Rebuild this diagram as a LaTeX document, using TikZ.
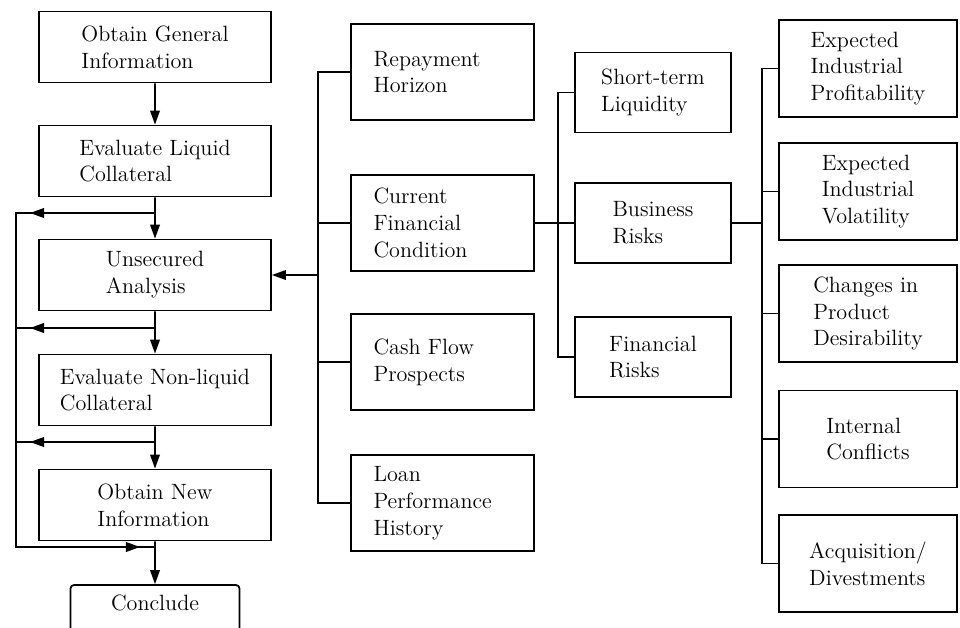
\documentclass[tikz,border=0pt]{standalone}
\usetikzlibrary{arrows.meta}
\begin{document}
\begin{tikzpicture}[scale=0.2]
\tikzstyle{every node}+=[font=\fontsize{12.6}{15.3}\selectfont]
\tikzstyle{stepbox}=[draw=black, line width=1pt, minimum width=4.64cm, minimum height=1.42cm, align=left]
\tikzstyle{factor}=[draw=black, line width=1pt, text width=2.76cm, inner xsep=0.45cm, minimum height=1.92cm, align=left]
\tikzstyle{risk}=[draw=black, line width=1pt, minimum width=3.12cm, minimum height=1.6cm, align=left]
\tikzstyle{cause}=[draw=black, line width=1pt, minimum width=3.56cm, minimum height=1.94cm, align=left]
\tikzstyle{link}=[black, line width=1pt]
\tikzstyle{flow}=[black, line width=1pt, -{Triangle[length=8pt,width=5.5pt]}]
\useasboundingbox (0,0) rectangle (96,-62.7);
% procedure
\node [stepbox] (gen) at (15.5,-4.7) {Obtain General\\Information};
\node [stepbox] (liq) at (15.5,-16.1) {Evaluate Liquid\\Collateral};
\node [stepbox] (uns) at (15.5,-27.5) {Unsecured\\Analysis};
\node [stepbox] (nonliq) at (15.5,-39.0) {Evaluate Non-liquid\\Collateral};
\node [stepbox] (new) at (15.5,-50.5) {Obtain New\\Information};
\node [stepbox, minimum width=3.38cm, minimum height=0pt, inner ysep=0pt, text height=0.5cm, text depth=0.6cm, rounded corners=2pt] (concl) at (15.5,-61.25) {Conclude};
\draw [flow] (gen) -- (liq);
\draw [flow] (liq) -- (uns);
\draw [flow] (uns) -- (nonliq);
\draw [flow] (nonliq) -- (new);
\draw [flow] (new) -- (concl);
% way out to conclude
\coordinate (j1) at (15.5,-21.3);
\coordinate (j2) at (15.5,-32.8);
\coordinate (j3) at (15.5,-44.2);
\coordinate (j4) at (15.5,-54.7);
\coordinate (k1) at (1.6,-21.3);
\coordinate (k4) at (1.6,-54.7);
\coordinate (a1) at (3.0,-21.3);
\coordinate (a2) at (3.0,-32.8);
\coordinate (a3) at (3.0,-44.2);
\coordinate (a4) at (14.0,-54.7);
\draw [link] (j1) -- (k1) -- (k4) -- (j4);
\draw [link] (j2) -- (j2 -| k1);
\draw [link] (j3) -- (j3 -| k1);
\draw [flow] (j1) -- (a1);
\draw [flow] (j2) -- (a2);
\draw [flow] (j3) -- (a3);
\draw [flow] (k4) -- (a4);
% factors
\node [factor] (rep) at (44.25,-7.2) {Repayment\\Horizon};
\node [factor] (cfc) at (44.25,-22.3) {Current\\Financial\\Condition};
\node [factor] (cash) at (44.25,-36.2) {Cash Flow\\Prospects};
\node [factor] (loan) at (44.25,-50.3) {Loan\\Performance\\History};
\coordinate (busA) at (31.8,0);
\draw [link] (rep.west) -- (rep.west -| busA) -- (loan.west -| busA) -- (loan.west);
\draw [link] (cfc.west) -- (cfc.west -| busA);
\draw [link] (cash.west) -- (cash.west -| busA);
\draw [flow] (uns.east -| busA) -- (uns.east);
% risks
\node [risk] (stl) at (65.3,-9.25) {Short-term\\Liquidity};
\node [risk] (brisk) at (65.3,-22.3) {Business\\Risks};
\node [risk] (frisk) at (65.3,-35.7) {Financial\\Risks};
\coordinate (busB) at (55.8,0);
\draw [link] (cfc.east) -- (brisk.west);
\draw [link] (stl.west) -- (stl.west -| busB) -- (frisk.west -| busB) -- (frisk.west);
% business risk causes
\node [cause] (prof) at (86.8,-6.85) {Expected\\Industrial\\Profitability};
\node [cause] (vol) at (86.8,-19.15) {Expected\\Industrial\\Volatility};
\node [cause] (prod) at (86.8,-31.35) {Changes in\\Product\\Desirability};
\node [cause] (conf) at (86.8,-43.9) {Internal\\Conflicts};
\node [cause] (acq) at (86.8,-56.35) {Acquisition/\\Divestments};
\coordinate (busC) at (76.2,0);
\draw [link] (brisk.east) -- (brisk.east -| busC);
\draw [link] (prof.west) -- (prof.west -| busC) -- (acq.west -| busC) -- (acq.west);
\draw [link] (vol.west) -- (vol.west -| busC);
\draw [link] (prod.west) -- (prod.west -| busC);
\draw [link] (conf.west) -- (conf.west -| busC);
\end{tikzpicture}
\end{document}
